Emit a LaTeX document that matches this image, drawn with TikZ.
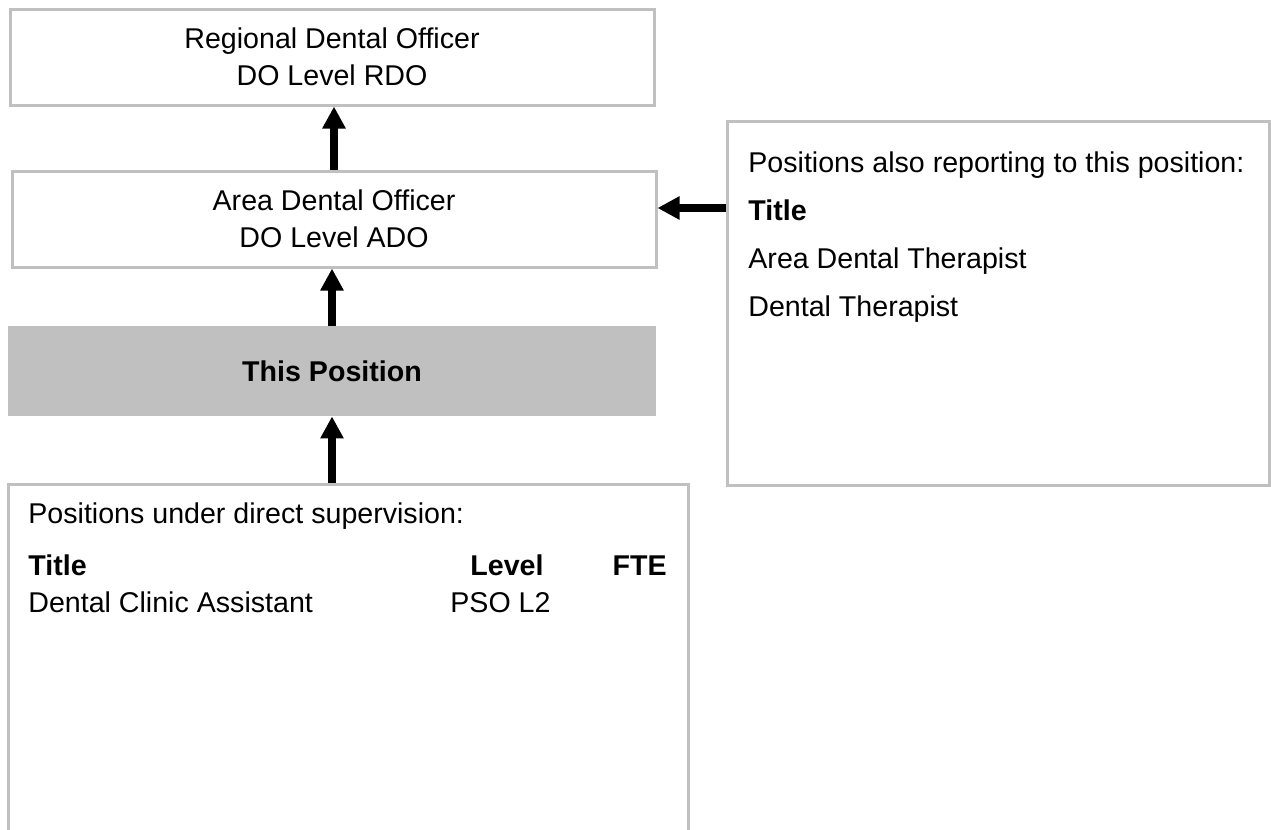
\documentclass[tikz,border=0pt]{standalone}
\usepackage{fontspec}
\setmainfont{Liberation Sans}
\usetikzlibrary{arrows.meta}
\definecolor{boxgray}{HTML}{C0C0C0}

\begin{document}
\begin{tikzpicture}[x=0.5pt, y=-0.5pt,
	font=\fontsize{14.3}{18.5}\selectfont,
	box/.style={draw=boxgray, line width=1.5pt, align=center},
	txt/.style={anchor=base west, inner sep=0pt},
	report/.style={line width=3.75pt, -{Triangle[length=11pt,width=11pt]}}]
	\clip (0,0) rectangle (1271,830);

	\node[box, minimum width=322pt, minimum height=48pt] (RDO) at (332,57) {Regional Dental Officer\\DO Level RDO};
	\node[box, minimum width=322pt, minimum height=48pt] (ADO) at (334,219) {Area Dental Officer\\DO Level ADO};
	\node[fill=boxgray, minimum width=324pt, minimum height=45pt, font=\fontsize{14.3}{18.5}\selectfont\bfseries] (This) at (332,371) {This Position};
	\node[box, minimum width=340pt, minimum height=208pt] (Sub) at (348,692) {};
	\node[box, minimum width=271pt, minimum height=182pt] (Also) at (998,303) {};

	\node[txt] (AlsoHead) at (748,172) {Positions also reporting to this position:};
	\node[txt, font=\fontsize{14.3}{18.5}\selectfont\bfseries] (AlsoTitle) at (748,220) {Title};
	\node[txt] (ADT) at (748,268) {Area Dental Therapist};
	\node[txt] (DT) at (748,316) {Dental Therapist};

	\node[txt] (SubHead) at (28,523) {Positions under direct supervision:};
	\node[txt, font=\fontsize{14.3}{18.5}\selectfont\bfseries] (SubTitle) at (28,575) {Title};
	\node[txt, font=\fontsize{14.3}{18.5}\selectfont\bfseries] (SubLevel) at (470,575) {Level};
	\node[txt, anchor=base east, font=\fontsize{14.3}{18.5}\selectfont\bfseries] (SubFTE) at (667,575) {FTE};
	\node[txt] (DCA) at (28,612) {Dental Clinic Assistant};
	\node[txt] (PSO) at (450,612) {PSO L2};

	\draw[report] (ADO.north) -- (ADO.north |- RDO.south);
	\draw[report] (This.north) -- (This.north |- ADO.south);
	\draw[report] (This.south |- Sub.north) -- (This.south);
	\draw[report] ([yshift=5.5pt]ADO.east -| Also.west) -- ([yshift=5.5pt]ADO.east);
\end{tikzpicture}
\end{document}
